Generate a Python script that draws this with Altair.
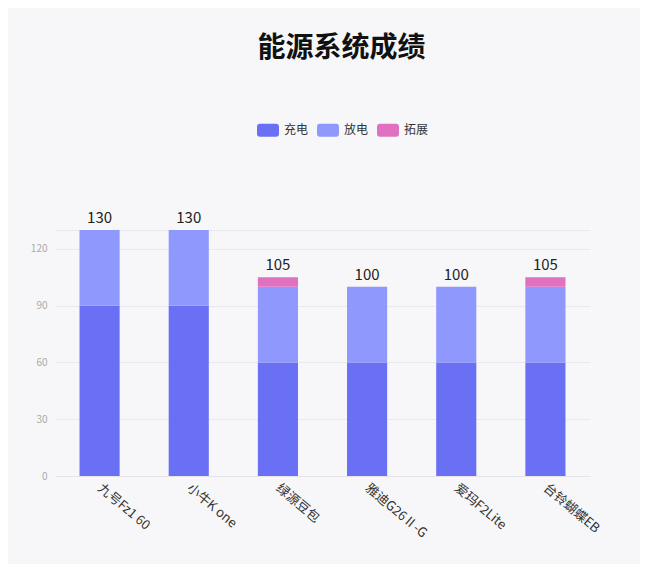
import altair as alt
import pandas as pd

categories = ["九号Fz1 60", "小牛K one", "绿源豆包", "雅迪G26Ⅱ-G", "爱玛F2Lite", "台铃蝴蝶EB"]
series = ["充电", "放电", "拓展"]
charge = [90, 90, 60, 60, 60, 60]
discharge = [40, 40, 40, 40, 40, 40]
extend = [0, 0, 5, 0, 0, 5]
colors = ["#6a70f4", "#8e98fd", "#e070c0"]
y_ticks = [0, 30, 60, 90, 120, 130]

rows = []
for i, c in enumerate(categories):
    for j, (s, vals) in enumerate(zip(series, [charge, discharge, extend])):
        rows.append({"cat": c, "series": s, "value": vals[i], "idx": j})
df = pd.DataFrame(rows)

FONT = "Noto Sans CJK SC"
rr = ("M-0.73,-0.59 L0.73,-0.59 Q1,-0.59 1,-0.32 L1,0.32 Q1,0.59 0.73,0.59 "
      "L-0.73,0.59 Q-1,0.59 -1,0.32 L-1,-0.32 Q-1,-0.59 -0.73,-0.59 Z")

x = alt.X("cat:N", sort=categories, title=None,
          scale=alt.Scale(paddingInner=0.55, paddingOuter=0.275),
          axis=alt.Axis(labelAngle=40, labelAlign="left", labelBaseline="middle",
                        labelFontSize=13, labelColor="#333333", labelFont=FONT,
                        ticks=False, labelPadding=10, domainColor="#e4e4ea",
                        grid=False))

bars = alt.Chart(df).mark_bar().encode(
    x=x,
    y=alt.Y("value:Q", stack="zero", title=None,
            scale=alt.Scale(domain=[0, 130], nice=False),
            axis=alt.Axis(values=y_ticks, labelExpr="datum.value == 130 ? '' : datum.label",
                          ticks=False, domain=False, labelFontSize=10, labelColor="#aaaaaa",
                          labelPadding=8, gridColor="#e8e8ee", labelFont=FONT)),
    color=alt.Color("series:N", sort=series,
                    scale=alt.Scale(domain=series, range=colors),
                    legend=alt.Legend(title=None, orient="none", direction="horizontal",
                                      legendX=202, legendY=-111, symbolType=rr,
                                      symbolSize=484, symbolStrokeWidth=0,
                                      labelFontSize=12, labelColor="#333333",
                                      labelFont=FONT, columnPadding=8, symbolOffset=0,
                                      labelOffset=5)),
    order=alt.Order("idx:Q", sort="ascending"),
)

labels = alt.Chart(df).transform_aggregate(
    total="sum(value)", groupby=["cat"]
).mark_text(baseline="bottom", dy=-4, fontSize=15, color="#222222", font=FONT).encode(
    x=alt.X("cat:N", sort=categories),
    y=alt.Y("total:Q"),
    text=alt.Text("total:Q"),
)

chart = alt.layer(bars, labels).properties(
    width=535, height=246,
    title=alt.TitleParams("能源系统成绩", fontSize=28, fontWeight="bold", font=FONT,
                          color="#111111", anchor="middle", dx=19, dy=-52),
    autosize=alt.AutoSizeParams(type="none"),
    padding={"left": 47, "top": 222, "right": 50, "bottom": 88},
    background="#f7f7f9",
).configure_view(stroke=None)

chart.save("out.html", embed_options={"renderer": "svg", "actions": False})
